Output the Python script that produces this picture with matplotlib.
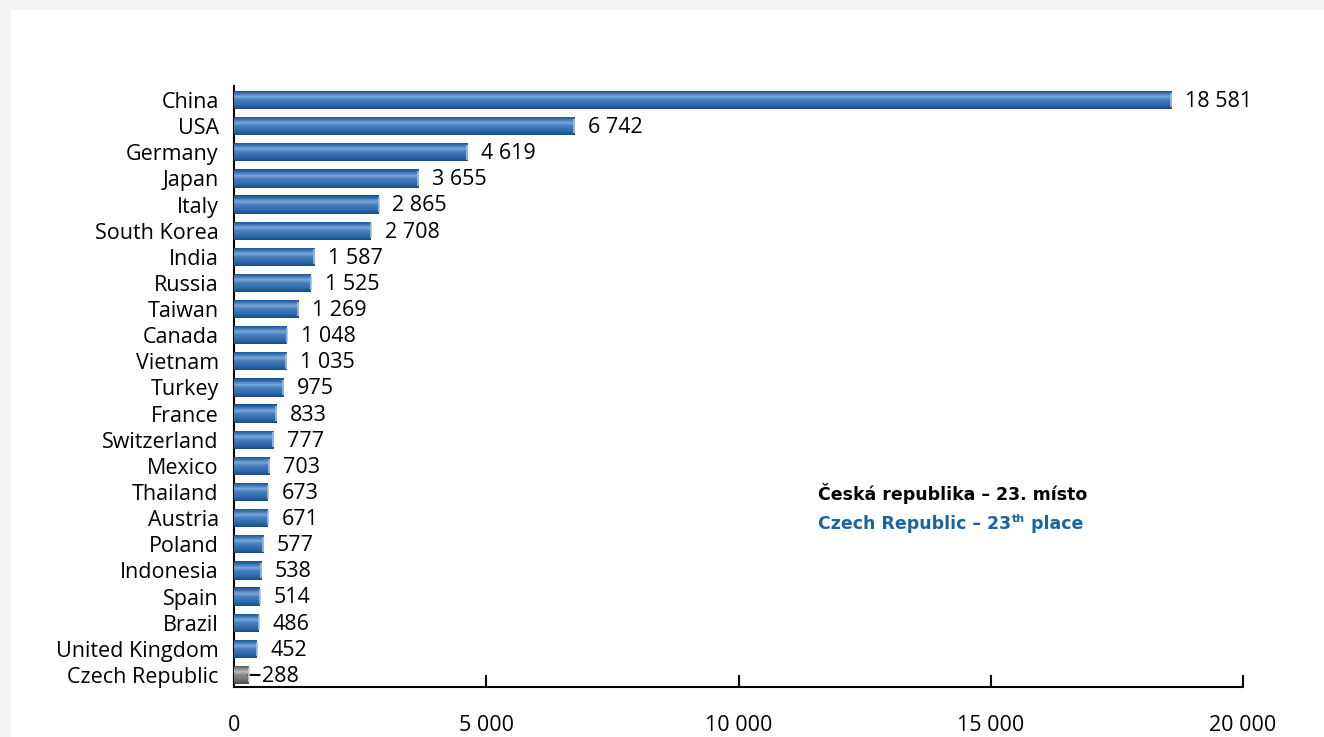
import numpy as np
import matplotlib
matplotlib.use("Agg")
import matplotlib.pyplot as plt
from matplotlib.colors import LinearSegmentedColormap
from matplotlib.patches import Rectangle

plt.rcParams['font.family'] = ['Open Sans', 'DejaVu Sans']

# data
countries = ['China', 'USA', 'Germany', 'Japan', 'Italy', 'South Korea', 'India',
             'Russia', 'Taiwan', 'Canada', 'Vietnam', 'Turkey', 'France',
             'Switzerland', 'Mexico', 'Thailand', 'Austria', 'Poland', 'Indonesia',
             'Spain', 'Brazil', 'United Kingdom', 'Czech Republic']
values = [18581, 6742, 4619, 3655, 2865, 2708, 1587, 1525, 1269, 1048, 1035,
          975, 833, 777, 703, 673, 671, 577, 538, 514, 486, 452, 288]
xticks = [0, 5000, 10000, 15000, 20000]

def fmt(v):
    return f"{v:,}".replace(",", " ")

blue_cmap = LinearSegmentedColormap.from_list("blue_bar", [
    (0.0, "#17508f"), (0.12, "#2a67a8"), (0.35, "#7aa6d8"),
    (0.5, "#4a80c0"), (0.8, "#2c68aa"), (1.0, "#1b4b82")])
gray_cmap = LinearSegmentedColormap.from_list("gray_bar", [
    (0.0, "#4f4f4f"), (0.12, "#707070"), (0.35, "#bdbdbd"),
    (0.5, "#8c8c8c"), (0.8, "#6c6c6c"), (1.0, "#4a4a4a")])

fig = plt.figure(figsize=(13.24, 7.37), dpi=100, facecolor="#f4f5f5")
fig.patches.append(Rectangle((11 / 1324, 0), 1, 727 / 737, transform=fig.transFigure,
                             facecolor="white", edgecolor="none", zorder=-10))
ax = fig.add_axes([234 / 1324, 50 / 737, 1009 / 1324, 601 / 737])
ax.set_facecolor("none")

y = np.arange(len(countries))
h = 0.7
grad = np.linspace(0, 1, 64).reshape(-1, 1)

bars = ax.barh(y, values, height=h, color="#2f68a7", edgecolor="none", zorder=2)
for i, (bar, v) in enumerate(zip(bars, values)):
    cmap = gray_cmap if countries[i] == 'Czech Republic' else blue_cmap
    im = ax.imshow(grad, cmap=cmap, aspect='auto', origin='upper',
                   extent=(0, v, i + h / 2, i - h / 2), zorder=3)
    im.set_clip_path(bar)
    # light cap at the bar end
    ax.plot([v, v], [i - h / 2 * 0.8, i + h / 2 * 0.8],
            color="#9fbfe0" if cmap is blue_cmap else "#cfcfcf",
            lw=1.2, zorder=4, solid_capstyle='butt')
    if countries[i] == 'Czech Republic':
        ax.annotate('', xy=(v, i), xytext=(8, 0), textcoords='offset points',
                    arrowprops=dict(arrowstyle='-', lw=1.5, color='black',
                                    shrinkA=0, shrinkB=0))
    ax.annotate(fmt(v), xy=(v, i), xytext=(10, -1), textcoords='offset points',
                ha='left', va='center', fontsize=15.5, color='black')

ax.set_xlim(0, 20000)
ax.set_ylim(len(countries) - 1 + 0.46, -0.535)
ax.set_yticks(y)
ax.set_yticklabels(countries, fontsize=15.5)
ax.set_xticks(xticks)
ax.set_xticklabels([fmt(t) for t in xticks], fontsize=15.5)
ax.tick_params(axis='y', length=0, pad=11)
ax.tick_params(axis='x', direction='in', length=9, width=1.5, pad=20)
for s in ('top', 'right'):
    ax.spines[s].set_visible(False)
for s in ('left', 'bottom'):
    ax.spines[s].set_linewidth(1.5)

# note about the Czech position
note_font = ['DejaVu Sans']
ax.text(0.579, 0.322, "Česká republika – 23. místo", transform=ax.transAxes,
        fontsize=12.5, fontweight='bold', family=note_font, color='black',
        va='center', ha='left')
t1 = ax.text(0.579, 0.272, "Czech Republic – 23", transform=ax.transAxes,
             fontsize=12.5, fontweight='bold', family=note_font, color='#1a64a0',
             va='center', ha='left')
fig.canvas.draw()
bb = t1.get_window_extent().transformed(ax.transAxes.inverted())
t2 = ax.text(bb.x1 + 0.001, 0.280, "th", transform=ax.transAxes,
             fontsize=8, fontweight='bold', family=note_font, color='#1a64a0',
             va='center', ha='left')
fig.canvas.draw()
bb2 = t2.get_window_extent().transformed(ax.transAxes.inverted())
ax.text(bb2.x1, 0.272, " place", transform=ax.transAxes,
        fontsize=12.5, fontweight='bold', family=note_font, color='#1a64a0',
        va='center', ha='left')

fig.savefig("out.png", dpi=100, facecolor=fig.get_facecolor())
